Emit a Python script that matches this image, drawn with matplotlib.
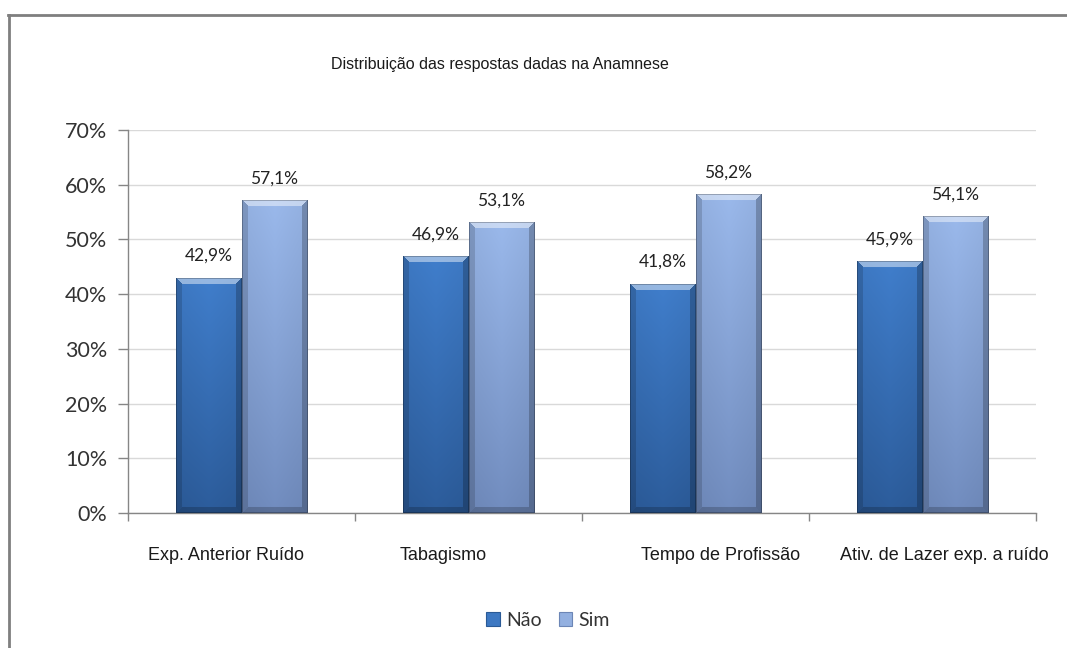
import numpy as np
import matplotlib
matplotlib.use("Agg")
import matplotlib.pyplot as plt
from matplotlib.patches import Rectangle
from matplotlib.lines import Line2D

# ---- data -------------------------------------------------------------
categories = ["Exp. Anterior Ruído", "Tabagismo", "Tempo de Profissão",
              "Ativ. de Lazer exp. a ruído"]
nao_values = [42.9, 46.9, 41.8, 45.9]
sim_values = [57.1, 53.1, 58.2, 54.1]
series_names = ["Não", "Sim"]
y_ticks = [0, 10, 20, 30, 40, 50, 60, 70]
title = "Distribuição das respostas dadas na Anamnese"

# ---- style ------------------------------------------------------------
W, H, DPI = 1067, 648, 100
CAL = ["Lato", "DejaVu Sans"]
ARIAL = ["Liberation Sans", "DejaVu Sans"]
nao_top, nao_bot = np.array([0x3d, 0x78, 0xc2]) / 255, np.array([0x2a, 0x58, 0x94]) / 255
sim_top, sim_bot = np.array([0x93, 0xb0, 0xe0]) / 255, np.array([0x6c, 0x86, 0xb6]) / 255
bar_w = 0.29
label_shift = [-0.07, -0.11, 0.11, 0.095]   # horizontal nudges of category labels

fig = plt.figure(figsize=(W / DPI, H / DPI), dpi=DPI)
ax = fig.add_axes([128 / W, 1 - 513 / H, (1036 - 128) / W, (513 - 130) / H])

ax.set_xlim(-0.5, len(categories) - 0.5)
ax.set_ylim(0, 70)


def bevel_image(w_px, h_px, top, bot, bev=6):
    yy, xx = np.mgrid[0:h_px, 0:w_px].astype(float)
    t = yy / max(h_px - 1, 1)
    img = top[None, None, :] * (1 - t[..., None]) + bot[None, None, :] * t[..., None]
    # soft horizontal shading: slightly lighter toward the middle
    u = xx / max(w_px - 1, 1)
    shade = 1.0 + 0.05 * (1 - np.abs(u - 0.5) * 2)
    img = img * shade[..., None]
    dl, dr, dt, db = xx, w_px - 1 - xx, yy, h_px - 1 - yy
    m = np.minimum.reduce([dl, dr, dt, db])
    edge = m < bev
    left = edge & (dl == m)
    right = edge & (dr == m) & ~left
    topm = edge & (dt == m) & ~left & ~right
    botm = edge & (db == m) & ~left & ~right & ~topm
    img[topm] = img[topm] * 0.55 + 0.45
    img[left] = img[left] * 0.85
    img[right] = img[right] * 0.78
    img[botm] = img[botm] * 0.8
    # thin dark outline
    outline = m < 1
    img[outline] = img[outline] * 0.75
    return np.clip(img, 0, 1)


px_per_unit_y = (513 - 130) / 70.0
px_per_cat = (1036 - 128) / len(categories)

x = np.arange(len(categories))
for vals, top, bot, off in [(nao_values, nao_top, nao_bot, -bar_w / 2),
                            (sim_values, sim_top, sim_bot, bar_w / 2)]:
    for xi, v in zip(x, vals):
        x0 = xi + off - bar_w / 2
        x1 = xi + off + bar_w / 2
        wpx = int(round(bar_w * px_per_cat))
        hpx = int(round(v * px_per_unit_y))
        img = bevel_image(wpx, hpx, top, bot)
        ax.imshow(img, extent=(x0, x1, 0, v), aspect="auto", zorder=3,
                  interpolation="bilinear")
        ax.text(xi + off, v + 2.6, f"{v:.1f}%".replace(".", ","),
                ha="center", va="bottom", fontsize=12.5, family=CAL,
                color="#222222", zorder=4)

ax.set_xlim(-0.5, len(categories) - 0.5)
ax.set_ylim(0, 70)

# grid and axes
ax.set_yticks(y_ticks)
ax.set_yticklabels([f"{t}%" for t in y_ticks], fontsize=15.5, family=CAL, color="#333333")
ax.yaxis.grid(True, color="#d9d9d9", linewidth=1.0, zorder=0)
ax.set_axisbelow(True)
ax.tick_params(axis="y", length=7, width=1, color="#868686", pad=8)
ax.set_xticks(np.arange(len(categories) + 1) - 0.5)
ax.set_xticklabels([])
ax.tick_params(axis="x", length=6, width=1, color="#868686")
for s in ["top", "right"]:
    ax.spines[s].set_visible(False)
for s in ["left", "bottom"]:
    ax.spines[s].set_color("#868686")
    ax.spines[s].set_linewidth(1.0)

for xi, lab, sh in zip(x, categories, label_shift):
    ax.text(xi + sh, -7.8, lab, ha="center", va="center", fontsize=13,
            family=ARIAL, color="#1a1a1a", transform=ax.transData, clip_on=False)

fig.text(500 / W, 1 - 64 / H, title, ha="center", va="center", fontsize=11.5,
         family=ARIAL, color="#1a1a1a")

# legend
handles = [Rectangle((0, 0), 1, 1, facecolor=nao_top, edgecolor="#2a5a96", linewidth=0.8),
           Rectangle((0, 0), 1, 1, facecolor=sim_top, edgecolor="#6c86b6", linewidth=0.8)]
fig.legend(handles, series_names, loc="center", bbox_to_anchor=(548 / W, 1 - 620 / H),
           ncol=2, frameon=False, prop={"family": CAL, "size": 14},
           handlelength=0.7, handleheight=0.7, handletextpad=0.3, columnspacing=0.9,
           labelcolor="#333333")

# outer frame (left and top edges)
fig.add_artist(Line2D([8.5 / W, 8.5 / W], [0, 1 - 14.5 / H], color="#7f7f7f", linewidth=2.0))
fig.add_artist(Line2D([7.5 / W, 1], [1 - 14.5 / H, 1 - 14.5 / H], color="#7f7f7f", linewidth=2.0))

fig.savefig("out.png", dpi=DPI)
